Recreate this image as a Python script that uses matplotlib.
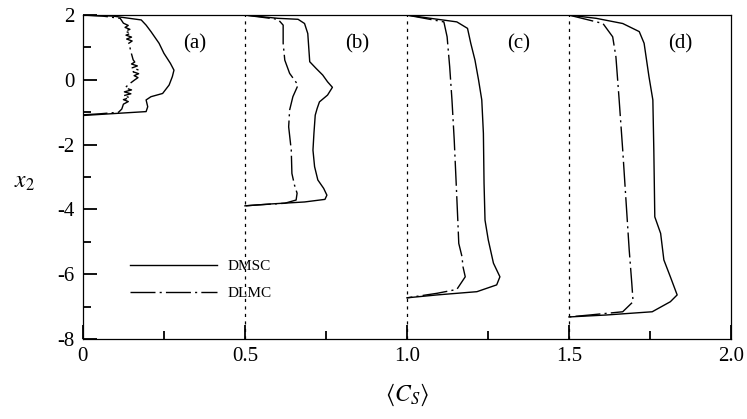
import matplotlib.pyplot as plt
from matplotlib.ticker import MultipleLocator, FixedLocator

plt.rcParams['font.family'] = ['Liberation Serif', 'DejaVu Serif']
plt.rcParams['mathtext.fontset'] = 'stix'

# panel offsets along <C_S> and panel tags
offsets = [0.0, 0.5, 1.0, 1.5]
tags = ['(a)', '(b)', '(c)', '(d)']

# (a)
a_dmsc_x2 = [2.0, 1.97, 1.85, 1.69, 1.49, 1.13, 0.82, 0.51, 0.30, 0.10, -0.16, -0.42, -0.52, -0.62, -0.83, -0.98, -1.03, -1.10]
a_dmsc_c = [0.0, 0.092, 0.18, 0.195, 0.21, 0.235, 0.25, 0.27, 0.281, 0.276, 0.266, 0.246, 0.21, 0.195, 0.20, 0.195, 0.113, 0.0]
a_dlmc_x2 = [2.0, 1.97, 1.9, 1.75, 1.68, 1.62, 1.56, 1.5, 1.44, 1.38, 1.32, 1.26, 1.2, 1.12, 1.0, 0.8, 0.62,
             0.55, 0.49, 0.43, 0.37, 0.31, 0.25, 0.19, 0.13, 0.07, 0.0, -0.15, -0.25, -0.31, -0.37, -0.43,
             -0.49, -0.55, -0.61, -0.67, -0.75, -0.9, -1.0, -1.05, -1.08]
a_dlmc_c = [0.0, 0.06, 0.115, 0.125, 0.14, 0.13, 0.145, 0.13, 0.148, 0.133, 0.15, 0.135, 0.152, 0.14, 0.145, 0.15, 0.155,
            0.16, 0.15, 0.168, 0.152, 0.17, 0.155, 0.172, 0.158, 0.17, 0.16, 0.14, 0.13, 0.15, 0.128, 0.148,
            0.125, 0.145, 0.125, 0.14, 0.125, 0.12, 0.11, 0.05, 0.0]

# (b)
b_dmsc_x2 = [2.0, 1.9, 1.87, 1.74, 1.43, 0.56, 0.35, 0.15, -0.06, -0.23, -0.47, -0.68, -0.88, -1.09, -1.65, -2.17,
             -2.68, -3.09, -3.35, -3.56, -3.69, -3.77, -3.83, -3.89]
b_dmsc_c = [0.0, 0.102, 0.164, 0.184, 0.194, 0.2, 0.22, 0.24, 0.255, 0.27, 0.255, 0.23, 0.223, 0.217, 0.213, 0.21,
            0.215, 0.225, 0.243, 0.253, 0.247, 0.184, 0.082, 0.0]
b_dlmc_x2 = [2.0, 1.87, 1.69, 1.13, 0.61, 0.2, -0.16, -0.52, -0.93, -1.45, -2.17, -2.89, -3.25, -3.5, -3.71, -3.81,
             -3.86, -3.89]
b_dlmc_c = [0.0, 0.102, 0.118, 0.118, 0.123, 0.138, 0.164, 0.148, 0.138, 0.135, 0.143, 0.145, 0.153, 0.161, 0.158,
            0.123, 0.041, 0.0]

# (c)
c_dmsc_x2 = [2.0, 1.9, 1.79, 1.59, 1.13, 0.61, 0.0, -0.62, -1.65, -3.19, -4.33, -4.94, -5.66, -6.08, -6.33, -6.54,
             -6.64, -6.73]
c_dmsc_c = [0.0, 0.073, 0.154, 0.187, 0.197, 0.21, 0.221, 0.231, 0.236, 0.238, 0.241, 0.251, 0.267, 0.287, 0.277,
            0.216, 0.093, 0.0]
c_dlmc_x2 = [2.0, 1.79, 1.33, 0.4, -0.62, -1.86, -3.19, -4.33, -5.05, -5.46, -5.77, -6.08, -6.47, -6.59, -6.73]
c_dlmc_c = [0.0, 0.114, 0.124, 0.132, 0.139, 0.146, 0.152, 0.157, 0.16, 0.17, 0.173, 0.18, 0.154, 0.093, 0.0]

# (d)
d_dmsc_x2 = [2.0, 1.9, 1.74, 1.49, 1.13, 0.1, -0.62, -2.17, -4.23, -4.74, -5.56, -6.08, -6.64, -6.85, -7.16, -7.26,
             -7.32]
d_dmsc_c = [0.0, 0.084, 0.166, 0.217, 0.232, 0.247, 0.259, 0.262, 0.265, 0.283, 0.293, 0.313, 0.334, 0.313, 0.257,
            0.115, 0.0]
d_dlmc_x2 = [2.0, 1.74, 1.33, 0.71, -0.62, -2.17, -3.71, -5.25, -6.28, -6.85, -7.16, -7.26, -7.32]
d_dlmc_c = [0.0, 0.105, 0.135, 0.145, 0.155, 0.166, 0.176, 0.186, 0.194, 0.198, 0.166, 0.064, 0.0]

dmsc = [(a_dmsc_x2, a_dmsc_c), (b_dmsc_x2, b_dmsc_c), (c_dmsc_x2, c_dmsc_c), (d_dmsc_x2, d_dmsc_c)]
dlmc = [(a_dlmc_x2, a_dlmc_c), (b_dlmc_x2, b_dlmc_c), (c_dlmc_x2, c_dlmc_c), (d_dlmc_x2, d_dlmc_c)]

fig = plt.figure(figsize=(7.47, 4.19), dpi=100)
ax = fig.add_axes([0.111, 0.191, 0.8675, 0.773])

dashdot = (18, 3, 1.5, 3)
for k in range(len(offsets)):
    off = offsets[k]
    x2, c = dmsc[k]
    ax.plot([off + v for v in c], x2, color='k', lw=1.0,
            label='DMSC' if k == 0 else None)
    x2, c = dlmc[k]
    ax.plot([off + v for v in c], x2, color='k', lw=1.0, dashes=dashdot,
            label='DLMC' if k == 0 else None)
    if off > 0:
        ax.axvline(off, color='k', lw=0.9, dashes=(2.5, 3.5))
    ax.text(off + 0.345, 1.1, tags[k], fontsize=15, ha='center', va='center')

ax.set_xlim(0, 2.0)
ax.set_ylim(-8, 2)
ax.xaxis.set_major_locator(FixedLocator([0, 0.5, 1.0, 1.5, 2.0]))
ax.set_xticklabels(['0', '0.5', '1.0', '1.5', '2.0'])
ax.xaxis.set_minor_locator(MultipleLocator(0.25))
ax.set_yticks([-8, -6, -4, -2, 0, 2])
ax.set_yticklabels(['-8', '-6', '-4', '-2', '0', '2'])
ax.yaxis.set_minor_locator(MultipleLocator(1))
ax.tick_params(which='both', direction='in', top=False, right=False, labelsize=15, width=1.3)
ax.tick_params(which='major', length=10)
ax.tick_params(which='minor', length=5.5)
ax.tick_params(axis='x', pad=6)
ax.tick_params(axis='y', pad=6)
for s in ax.spines.values():
    s.set_linewidth(0.9)

ax.set_xlabel(r'$\langle C_S \rangle$', fontsize=17, labelpad=11)
ax.set_ylabel(r'$x_2$', fontsize=17, rotation=0)
ax.yaxis.set_label_coords(-0.09, 0.45)

ax.legend(loc='lower left', bbox_to_anchor=(0.052, 0.078), frameon=False, fontsize=11,
          handlelength=5.7, handletextpad=0.65, labelspacing=0.85)

fig.savefig('out.png', dpi=100)
